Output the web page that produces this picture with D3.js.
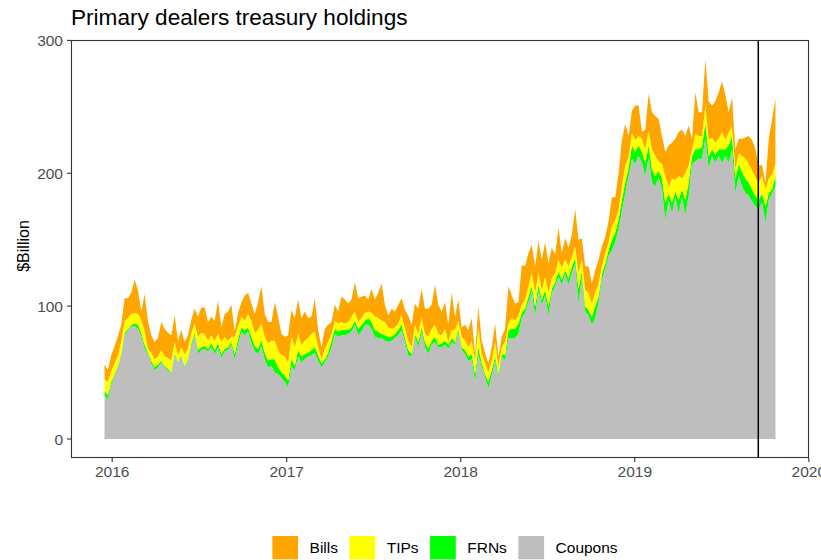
<!DOCTYPE html>
<html>
<head>
<meta charset="utf-8">
<script src="https://cdn.jsdelivr.net/npm/d3@7"></script>
<style>
body { margin: 0; background: #ffffff; }
text { font-family: "Liberation Sans", Arial, sans-serif; }
</style>
</head>
<body>
<div id="chart"></div>
<script>
// weekly observations (Wednesdays)
var weeks = [
"2015-12-16","2015-12-23","2015-12-30",
"2016-01-06","2016-01-13","2016-01-20","2016-01-27","2016-02-03","2016-02-10","2016-02-17","2016-02-24",
"2016-03-02","2016-03-09","2016-03-16","2016-03-23","2016-03-30","2016-04-06","2016-04-13","2016-04-20","2016-04-27",
"2016-05-04","2016-05-11","2016-05-18","2016-05-25","2016-06-01","2016-06-08","2016-06-15","2016-06-22","2016-06-29",
"2016-07-06","2016-07-13","2016-07-20","2016-07-27","2016-08-03","2016-08-10","2016-08-17","2016-08-24","2016-08-31",
"2016-09-07","2016-09-14","2016-09-21","2016-09-28","2016-10-05","2016-10-12","2016-10-19","2016-10-26",
"2016-11-02","2016-11-09","2016-11-16","2016-11-23","2016-11-30","2016-12-07","2016-12-14","2016-12-21","2016-12-28",
"2017-01-04","2017-01-11","2017-01-18","2017-01-25","2017-02-01","2017-02-08","2017-02-15","2017-02-22",
"2017-03-01","2017-03-08","2017-03-15","2017-03-22","2017-03-29","2017-04-05","2017-04-12","2017-04-19","2017-04-26",
"2017-05-03","2017-05-10","2017-05-17","2017-05-24","2017-05-31","2017-06-07","2017-06-14","2017-06-21","2017-06-28",
"2017-07-05","2017-07-12","2017-07-19","2017-07-26","2017-08-02","2017-08-09","2017-08-16","2017-08-23","2017-08-30",
"2017-09-06","2017-09-13","2017-09-20","2017-09-27","2017-10-04","2017-10-11","2017-10-18","2017-10-25",
"2017-11-01","2017-11-08","2017-11-15","2017-11-22","2017-11-29","2017-12-06","2017-12-13","2017-12-20","2017-12-27",
"2018-01-03","2018-01-10","2018-01-17","2018-01-24","2018-01-31","2018-02-07","2018-02-14","2018-02-21","2018-02-28",
"2018-03-07","2018-03-14","2018-03-21","2018-03-28","2018-04-04","2018-04-11","2018-04-18","2018-04-25",
"2018-05-02","2018-05-09","2018-05-16","2018-05-23","2018-05-30","2018-06-06","2018-06-13","2018-06-20","2018-06-27",
"2018-07-04","2018-07-11","2018-07-18","2018-07-25","2018-08-01","2018-08-08","2018-08-15","2018-08-22","2018-08-29",
"2018-09-05","2018-09-12","2018-09-19","2018-09-26","2018-10-03","2018-10-10","2018-10-17","2018-10-24","2018-10-31",
"2018-11-07","2018-11-14","2018-11-21","2018-11-28","2018-12-05","2018-12-12","2018-12-19","2018-12-26",
"2019-01-02","2019-01-09","2019-01-16","2019-01-23","2019-01-30","2019-02-06","2019-02-13","2019-02-20","2019-02-27",
"2019-03-06","2019-03-13","2019-03-20","2019-03-27","2019-04-03","2019-04-10","2019-04-17","2019-04-24",
"2019-05-01","2019-05-08","2019-05-15","2019-05-22","2019-05-29","2019-06-05","2019-06-12","2019-06-19","2019-06-26",
"2019-07-03","2019-07-10","2019-07-17","2019-07-24","2019-07-31","2019-08-07","2019-08-14","2019-08-21","2019-08-28",
"2019-09-04","2019-09-11","2019-09-18","2019-09-25","2019-10-02","2019-10-09","2019-10-16","2019-10-23"
];

// $Billion
var coupons = [
33,30,41,
48,54,63,78,82,85,85,83,78,68,64,57,52,54,58,54,52,49,64,57,62,54,59,70,78,64,67,68,66,69,64,69,61,66,67,71,60,71,81,78,81,72,66,64,70,60,54,55,50,49,46,43,
39,55,52,62,58,60,62,63,65,59,54,58,62,69,79,77,78,78,79,81,86,78,81,86,86,83,77,76,76,74,73,74,76,78,82,73,63,62,77,69,81,69,64,71,73,69,69,71,68,73,71,81,
67,64,59,60,43,64,54,47,38,48,59,47,62,59,76,76,76,79,91,95,103,111,93,112,101,108,93,110,115,122,116,124,116,125,132,102,122,96,93,86,91,103,120,128,138,142,148,158,172,185,198,211,
207,213,208,198,212,193,190,197,188,165,180,170,182,170,182,169,183,207,209,211,211,226,204,213,208,213,208,213,208,218,185,198,190,185,183,179,175,173,178,163,180,185,190
];
var frns = [
3,3,2,
1,1,1,2,1,1,2,3,2,3,1,2,2,2,1,1,1,1,1,1,1,1,1,2,2,3,2,2,2,3,3,3,3,2,2,2,4,4,3,4,3,5,4,4,4,5,5,5,10,5,4,5,
5,5,3,5,4,4,3,4,4,4,3,2,3,5,4,4,4,4,3,3,3,5,5,3,5,5,5,5,3,4,4,3,3,4,4,3,4,2,2,4,3,4,4,3,4,2,3,3,3,3,2,2,
2,3,3,4,6,5,3,2,5,4,3,2,2,4,6,7,7,8,4,3,4,4,7,4,4,4,7,3,3,4,4,3,5,5,4,11,4,4,4,6,9,4,4,4,4,8,7,7,8,8,6,10,
9,8,8,10,9,10,8,5,8,13,5,8,4,10,6,11,10,6,9,7,9,12,9,5,6,5,10,5,13,10,11,9,11,11,10,9,8,7,7,12,5,3,8
];
var tips = [
9,10,8,
8,8,9,9,8,8,8,8,10,10,3,6,6,6,8,7,8,9,8,5,6,9,8,8,7,10,11,9,6,6,7,7,9,9,5,4,13,10,8,7,10,12,10,14,13,12,13,14,14,13,13,14,
14,17,14,12,9,10,11,12,12,6,3,8,8,5,6,6,6,5,6,8,7,5,5,6,5,7,10,10,10,10,7,6,5,5,7,7,7,5,7,6,7,6,9,9,9,8,6,9,2,6,9,6,
8,7,7,10,10,15,7,8,7,7,11,6,5,10,5,8,6,6,6,7,8,10,10,9,7,10,10,8,7,9,9,8,9,7,9,12,9,12,13,10,10,10,6,8,6,10,10,7,10,13,8,9,
9,7,10,10,11,15,15,7,11,20,5,18,9,18,8,20,13,5,12,10,8,13,12,9,9,8,13,7,10,7,7,8,12,15,14,14,14,13,13,13,11,11,10
];
var bills = [
11,9,12,
13,14,13,17,15,16,25,18,6,28,21,13,13,14,21,21,19,19,20,11,13,9,10,10,11,15,19,20,14,14,15,25,11,17,22,24,4,10,11,19,16,13,14,21,28,17,16,14,29,25,16,15,
20,20,22,26,20,22,15,13,25,13,9,15,13,9,12,9,19,18,14,13,22,18,16,13,9,18,13,19,28,13,9,15,12,14,13,14,19,17,16,19,22,19,21,18,30,22,18,20,13,28,10,16,
7,12,13,17,5,16,10,8,7,10,14,7,8,10,28,17,13,10,30,25,25,21,20,24,23,26,22,23,14,24,11,16,14,17,28,25,16,18,20,15,17,18,15,12,16,22,17,28,35,31,16,17,
26,23,5,15,28,28,30,32,21,18,31,27,31,33,37,28,30,8,31,18,18,35,29,24,31,35,38,34,15,22,15,11,13,16,21,23,21,13,8,5,30,42,48
];

var stackOrder = ["Coupons", "FRNs", "TIPs", "Bills"];
var legendOrder = ["Bills", "TIPs", "FRNs", "Coupons"];
var fills = {Bills: "#FFA500", TIPs: "#FFFF00", FRNs: "#00FF00", Coupons: "#BEBEBE"};
var yTicks = [0, 100, 200, 300];
var xTicks = ["2016-01-01", "2017-01-01", "2018-01-01", "2019-01-01", "2020-01-01"];
var markerDate = "2019-09-17";

var W = 821, H = 560;
var margin = {top: 40, right: 12, bottom: 102, left: 71};
var pw = W - margin.left - margin.right,
	ph = H - margin.top - margin.bottom;

var parse = d3.timeParse("%Y-%m-%d");

var n = d3.min([weeks.length, coupons.length, frns.length, tips.length, bills.length]);
var rows = d3.range(n).map(function(i) {
	return {
		date: parse(weeks[i]),
		Coupons: coupons[i],
		FRNs: frns[i],
		TIPs: tips[i],
		Bills: bills[i]
	};
});

var layers = d3.stack().keys(stackOrder)(rows);

// ggplot style 5% expansion on both scales
var xExt = d3.extent(rows, function(d) { return d.date; });
var xPad = (xExt[1] - xExt[0]) * 0.05;
var x = d3.scaleTime()
	.domain([new Date(+xExt[0] - xPad), new Date(+xExt[1] + xPad)])
	.range([0, pw]);

var yMax = d3.max(layers[layers.length - 1], function(d) { return d[1]; });
var y = d3.scaleLinear()
	.domain([-yMax * 0.05, yMax * 1.05])
	.range([ph, 0]);

var svg = d3.select("#chart").append("svg")
	.attr("width", W)
	.attr("height", H);

svg.append("text")
	.attr("x", margin.left)
	.attr("y", 25)
	.style("font-size", "22.6px")
	.style("fill", "#000")
	.text("Primary dealers treasury holdings");

var g = svg.append("g")
	.attr("transform", "translate(" + margin.left + "," + margin.top + ")");

var area = d3.area()
	.x(function(d) { return x(d.data.date); })
	.y0(function(d) { return y(d[0]); })
	.y1(function(d) { return y(d[1]); });

g.selectAll("path.layer")
	.data(layers)
	.enter().append("path")
	.attr("class", "layer")
	.attr("d", area)
	.style("fill", function(d) { return fills[d.key]; });

g.append("line")
	.attr("x1", x(parse(markerDate)))
	.attr("x2", x(parse(markerDate)))
	.attr("y1", 0)
	.attr("y2", ph)
	.style("stroke", "#000")
	.style("stroke-width", 1.5);

// panel border
g.append("rect")
	.attr("x", 0.5)
	.attr("y", 0.5)
	.attr("width", pw - 1)
	.attr("height", ph - 1)
	.style("fill", "none")
	.style("stroke", "#333333")
	.style("stroke-width", 1.1);

// y axis
var yAxis = g.append("g");
yAxis.selectAll("line")
	.data(yTicks)
	.enter().append("line")
	.attr("x1", -4).attr("x2", 0)
	.attr("y1", function(d) { return y(d); })
	.attr("y2", function(d) { return y(d); })
	.style("stroke", "#333333")
	.style("stroke-width", 1.1);
yAxis.selectAll("text")
	.data(yTicks)
	.enter().append("text")
	.attr("x", -8)
	.attr("y", function(d) { return y(d); })
	.attr("dy", "0.36em")
	.attr("text-anchor", "end")
	.style("font-size", "15.5px")
	.style("fill", "#4d4d4d")
	.text(function(d) { return d; });

// x axis
var xAxis = g.append("g").attr("transform", "translate(0," + ph + ")");
xAxis.selectAll("line")
	.data(xTicks)
	.enter().append("line")
	.attr("x1", function(d) { return x(parse(d)); })
	.attr("x2", function(d) { return x(parse(d)); })
	.attr("y1", 0).attr("y2", 4)
	.style("stroke", "#333333")
	.style("stroke-width", 1.1);
xAxis.selectAll("text")
	.data(xTicks)
	.enter().append("text")
	.attr("x", function(d) { return x(parse(d)); })
	.attr("y", 19)
	.attr("text-anchor", "middle")
	.style("font-size", "15.5px")
	.style("fill", "#4d4d4d")
	.text(function(d) { return d.slice(0, 4); });

svg.append("text")
	.attr("transform", "translate(29," + 246 + ") rotate(-90)")
	.attr("text-anchor", "middle")
	.style("font-size", "16px")
	.style("fill", "#000")
	.text("$Billion");

// legend, centred under the plot
var keyW = 25.7, keyH = 23.3, textGap = 11.5, itemGap = 11.5;
var legend = svg.append("g");
var items = legend.selectAll("g")
	.data(legendOrder)
	.enter().append("g");
items.append("rect")
	.attr("width", keyW)
	.attr("height", keyH)
	.style("fill", function(d) { return fills[d]; });
items.append("text")
	.attr("x", keyW + textGap)
	.attr("y", keyH / 2)
	.attr("dy", "0.36em")
	.style("font-size", "15.5px")
	.style("fill", "#000")
	.text(function(d) { return d; });

var pos = 0;
items.each(function() {
	var tw = d3.select(this).select("text").node().getComputedTextLength();
	d3.select(this).attr("transform", "translate(" + pos + ",0)");
	pos += keyW + textGap + tw + itemGap;
});
var totalW = pos - itemGap;
legend.attr("transform", "translate(" + (445 - totalW / 2) + ",536)");
</script>
</body>
</html>
